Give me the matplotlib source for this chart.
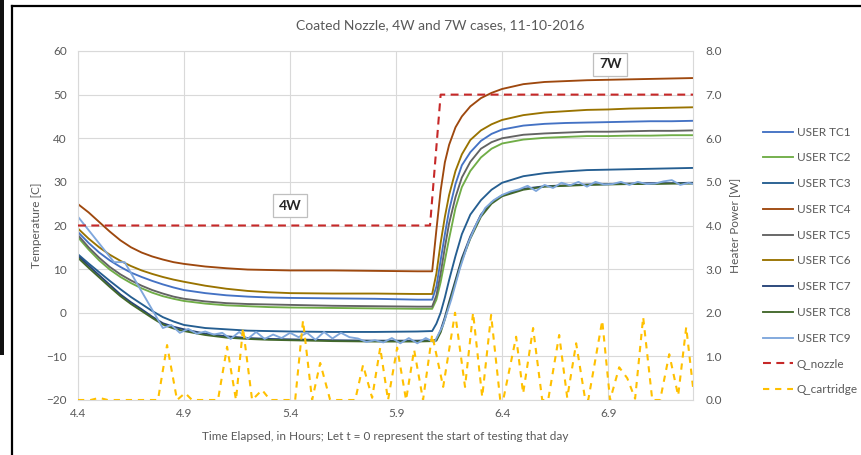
import matplotlib
matplotlib.use("Agg")
import matplotlib.pyplot as plt
from matplotlib.lines import Line2D
from matplotlib.patches import Rectangle

plt.rcParams["font.family"] = ["Lato", "DejaVu Sans"]

# ---------------- data ----------------
hours = [4.40, 4.45, 4.50, 4.55, 4.60, 4.65, 4.70, 4.75, 4.80, 4.85,
         4.90, 5.00, 5.10, 5.20, 5.30, 5.40, 5.60, 5.80, 6.00, 6.07,
         6.09, 6.11, 6.13, 6.15, 6.18, 6.21, 6.25, 6.30, 6.35, 6.40,
         6.50, 6.60, 6.70, 6.80, 6.90, 7.00, 7.10, 7.20, 7.30]

tc1 = [18.5, 16.0, 13.8, 12.0, 10.5, 9.2, 8.2, 7.3, 6.5, 5.8,
       5.2, 4.5, 4.0, 3.7, 3.5, 3.4, 3.3, 3.2, 3.0, 3.0,
       6.0, 12.0, 18.0, 23.5, 29.5, 33.8, 36.8, 39.4, 41.0, 42.0,
       42.9, 43.3, 43.5, 43.6, 43.7, 43.8, 43.9, 43.9, 44.0]
tc2 = [17.3, 14.5, 12.0, 9.9, 8.2, 6.8, 5.6, 4.6, 3.8, 3.2,
       2.7, 2.1, 1.7, 1.5, 1.3, 1.2, 1.1, 1.0, 0.9, 0.9,
       3.0, 7.0, 12.0, 17.0, 24.0, 28.8, 32.5, 35.6, 37.6, 38.8,
       39.7, 40.1, 40.3, 40.5, 40.5, 40.6, 40.6, 40.7, 40.7]
tc3 = [13.4, 11.3, 9.3, 7.3, 5.4, 3.6, 2.0, 0.4, -1.0, -2.0,
       -2.8, -3.5, -3.8, -4.1, -4.2, -4.3, -4.4, -4.4, -4.3, -4.2,
       -2.5, 0.0, 3.5, 7.5, 13.0, 18.0, 22.5, 25.8, 28.2, 29.8,
       31.3, 32.0, 32.4, 32.7, 32.8, 32.9, 33.0, 33.1, 33.2]
tc4 = [24.9, 23.0, 20.8, 18.6, 16.6, 15.0, 13.8, 12.9, 12.2, 11.6,
       11.2, 10.6, 10.2, 9.9, 9.8, 9.7, 9.7, 9.6, 9.5, 9.5,
       19.0, 28.0, 34.5, 38.5, 42.5, 45.0, 47.3, 49.2, 50.4, 51.3,
       52.4, 52.9, 53.1, 53.3, 53.4, 53.5, 53.6, 53.7, 53.8]
tc5 = [17.8, 15.0, 12.6, 10.5, 8.8, 7.4, 6.2, 5.2, 4.4, 3.7,
       3.2, 2.6, 2.2, 2.0, 1.9, 1.8, 1.6, 1.5, 1.4, 1.4,
       4.0, 9.0, 15.0, 20.5, 26.5, 31.0, 34.6, 37.6, 39.1, 40.0,
       40.8, 41.1, 41.3, 41.5, 41.5, 41.6, 41.7, 41.7, 41.8]
tc6 = [19.3, 17.0, 15.0, 13.3, 11.9, 10.7, 9.7, 8.9, 8.2, 7.6,
       7.1, 6.2, 5.5, 5.0, 4.7, 4.5, 4.4, 4.4, 4.3, 4.3,
       9.0, 16.0, 22.0, 27.0, 32.5, 36.3, 39.6, 41.8, 43.2, 44.2,
       45.3, 45.9, 46.2, 46.5, 46.6, 46.8, 46.9, 47.0, 47.1]
tc7 = [13.0, 10.8, 8.6, 6.4, 4.2, 2.4, 0.8, -0.9, -2.4, -3.2,
       -3.8, -4.8, -5.4, -5.8, -6.0, -6.1, -6.3, -6.4, -6.4, -6.3,
       -6.2, -4.0, -1.0, 2.5, 7.5, 12.5, 17.5, 22.5, 25.3, 26.9,
       28.4, 29.0, 29.2, 29.4, 29.5, 29.6, 29.7, 29.7, 29.8]
tc8 = [12.6, 10.3, 8.1, 5.9, 3.8, 2.0, 0.4, -1.2, -2.7, -3.6,
       -4.2, -5.1, -5.7, -6.0, -6.2, -6.3, -6.5, -6.6, -6.6, -6.5,
       -6.4, -4.5, -1.5, 2.0, 7.0, 12.0, 17.0, 22.0, 25.0, 26.7,
       28.2, 28.9, 29.1, 29.3, 29.4, 29.5, 29.5, 29.6, 29.6]

tc9_hours = [4.40, 4.57, 4.62, 4.80, 4.84, 4.88, 4.92, 4.96, 5.00, 5.04,
             5.08, 5.12, 5.16, 5.20, 5.24, 5.28, 5.32, 5.36, 5.40, 5.44,
             5.48, 5.52, 5.56, 5.60, 5.64, 5.68, 5.72, 5.76, 5.80, 5.84,
             5.88, 5.92, 5.96, 6.00, 6.04, 6.08, 6.12, 6.16, 6.20, 6.24,
             6.28, 6.32, 6.36, 6.40, 6.44, 6.48, 6.52, 6.56, 6.60, 6.64,
             6.68, 6.72, 6.76, 6.80, 6.84, 6.88, 6.92, 6.96, 7.00, 7.04,
             7.08, 7.12, 7.16, 7.20, 7.24, 7.28, 7.30]
tc9 = [22.0, 11.6, 11.6, -3.5, -2.8, -4.6, -3.7, -4.8, -4.3, -5.0,
       -4.6, -6.0, -4.4, -6.0, -4.4, -6.0, -5.0, -5.8, -4.6, -5.6,
       -4.6, -6.2, -4.4, -5.9, -4.6, -5.6, -5.9, -6.7, -6.3, -6.8,
       -5.8, -7.0, -5.8, -7.0, -5.8, -6.8, -3.0, 3.0, 10.0, 16.0,
       20.5, 24.0, 25.8, 27.0, 27.8, 28.3, 29.1, 27.9, 29.3, 28.6,
       29.8, 29.2, 30.0, 28.9, 30.0, 29.4, 29.5, 30.0, 29.3, 30.0,
       29.5, 29.6, 30.1, 30.4, 29.3, 29.8, 29.5]

q_nozzle_hours = [4.40, 6.06, 6.11, 7.30]
q_nozzle = [4.0, 4.0, 7.0, 7.0]

q_cart_hours = [4.40, 4.46, 4.50, 4.54, 4.777, 4.820, 4.867, 4.905, 4.938, 5.060,
                5.103, 5.145, 5.178, 5.221, 5.268, 5.306, 5.424, 5.461, 5.504, 5.542,
                5.589, 5.707, 5.744, 5.787, 5.825, 5.862, 5.905, 5.947, 5.985, 6.027,
                6.070, 6.122, 6.178, 6.225, 6.263, 6.306, 6.348, 6.391, 6.405, 6.466,
                6.499, 6.546, 6.589, 6.617, 6.669, 6.707, 6.749, 6.792, 6.806, 6.872,
                6.909, 6.952, 6.990, 7.027, 7.065, 7.108, 7.145, 7.188, 7.230, 7.268,
                7.301]
q_cart = [0, 0, 0.05, 0, 0, 1.26, 0, 0.16, 0, 0,
          1.22, 0, 1.65, 0, 0.23, 0, 0, 1.82, 0, 0.85,
          0, 0, 0.80, 0.05, 1.20, 0, 1.20, 0, 1.15, 0,
          1.50, 0.30, 2.00, 0.30, 2.00, 0.07, 1.95, 0, 0, 1.45,
          0.15, 1.65, 0, 0, 1.49, 0.05, 1.30, 0, 0, 1.82,
          0, 0.75, 0.50, 0.03, 1.90, 0, 0, 1.05, 0.10, 1.67,
          0.25]

x_ticks = [4.4, 4.9, 5.4, 5.9, 6.4, 6.9]
temp_ticks = [-20, -10, 0, 10, 20, 30, 40, 50, 60]
power_ticks = [0, 1, 2, 3, 4, 5, 6, 7, 8]

tc_series = [
    ("USER TC1", tc1, "#4472C4"),
    ("USER TC2", tc2, "#70AD47"),
    ("USER TC3", tc3, "#255E91"),
    ("USER TC4", tc4, "#9E480E"),
    ("USER TC5", tc5, "#636363"),
    ("USER TC6", tc6, "#997300"),
    ("USER TC7", tc7, "#264478"),
    ("USER TC8", tc8, "#43682B"),
]

TXT = "#595959"
GRID = "#D9D9D9"

# ---------------- figure ----------------
W, H = 862, 455
fig = plt.figure(figsize=(W / 100, H / 100), dpi=100)

ax = fig.add_axes([78 / W, 55 / H, 615 / W, 349 / H])
handles = []
for name, vals, col in tc_series:
    h, = ax.plot(hours, vals, color=col, lw=1.35, label=name,
                 solid_joinstyle="round")
    handles.append(h)
h9, = ax.plot(tc9_hours, tc9, color="#7FA7DC", lw=1.35, label="USER TC9")
handles.append(h9)

ax.set_xlim(4.4, 7.3)
ax.set_ylim(-20, 60)
ax.set_xticks(x_ticks)
ax.set_xticklabels([f"{v:.1f}" for v in x_ticks])
ax.set_yticks(temp_ticks)
ax.grid(True, color=GRID, lw=0.8)
ax.set_axisbelow(True)
ax.tick_params(axis="both", length=0, colors=TXT, labelsize=8.5)
ax.tick_params(axis="y", pad=8)
ax.tick_params(axis="x", pad=5.5)
for s in ax.spines.values():
    s.set_color(GRID)
    s.set_linewidth(0.8)

ax2 = ax.twinx()
hn, = ax2.plot(q_nozzle_hours, q_nozzle, color="#C62828", lw=1.5,
               linestyle=(0, (3.8, 2.6)), label="Q_nozzle")
hc, = ax2.plot(q_cart_hours, q_cart, color="#FFC000", lw=1.5,
               linestyle=(0, (3.0, 2.8)), label="Q_cartridge")
handles += [hn, hc]
ax2.set_ylim(0, 8)
ax2.set_yticks(power_ticks)
ax2.set_yticklabels([f"{v:.1f}" for v in power_ticks])
ax2.tick_params(axis="y", length=0, colors=TXT, labelsize=8.5, pad=9)
for s in ax2.spines.values():
    s.set_visible(False)

# annotation boxes
box = dict(boxstyle="square,pad=0.4", fc="white", ec="#BFBFBF", lw=0.9)
ax.text(5.40, 24.5, "4W", ha="center", va="center", fontsize=10,
        fontweight="bold", color="#262626", bbox=box)
ax.text(6.91, 57.0, "7W", ha="center", va="center", fontsize=10,
        fontweight="bold", color="#262626", bbox=box)

# titles and axis labels
fig.text(440 / W, 1 - 25 / H, "Coated Nozzle, 4W and 7W cases, 11-10-2016",
         ha="center", va="center", fontsize=10, color=TXT)
fig.text(385 / W, 1 - 437 / H,
         "Time Elapsed, in Hours; Let t = 0 represent the start of testing that day",
         ha="center", va="center", fontsize=8.5, color=TXT)
fig.text(37 / W, 1 - 225 / H, "Temperature [C]", rotation=90,
         ha="center", va="center", fontsize=8.5, color=TXT)
fig.text(736 / W, 1 - 225 / H, "Heater Power [W]", rotation=90,
         ha="center", va="center", fontsize=8.5, color=TXT)

fig.legend(handles=handles, loc="center left",
           bbox_to_anchor=(758 / W, 1 - 261 / H), frameon=False,
           fontsize=8.5, labelcolor=TXT, handlelength=2.6,
           handletextpad=0.3, labelspacing=1.25, borderaxespad=0)

# outer frame of the chart sheet
fig.add_artist(Line2D([12 / W, 1], [1 - 6 / H, 1 - 6 / H],
                      transform=fig.transFigure, color="black", lw=1.6))
fig.add_artist(Line2D([12 / W, 12 / W], [0, 1 - 6 / H],
                      transform=fig.transFigure, color="black", lw=1.6))
fig.add_artist(Rectangle((0, 1 - 355 / H), 4.5 / W, 355 / H,
                         transform=fig.transFigure, color="#111111", lw=0))

fig.savefig("out.png", dpi=100)
